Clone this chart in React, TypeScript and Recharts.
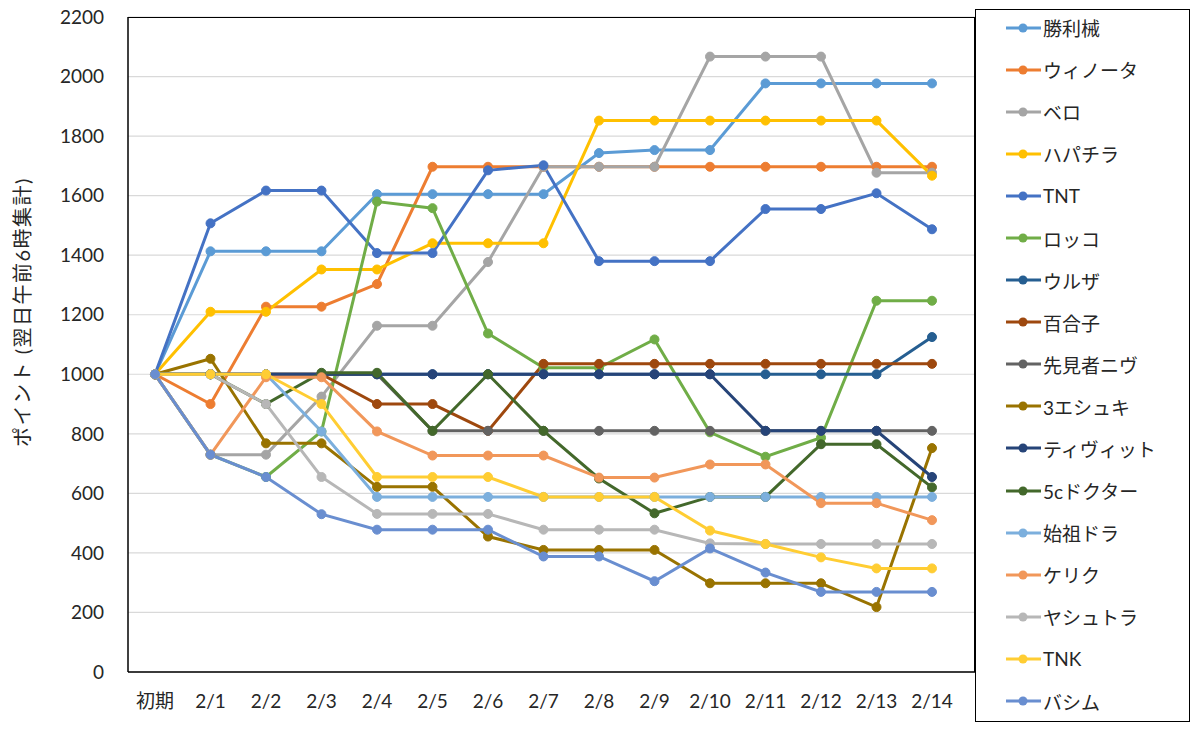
import React from 'react';
import { LineChart, Line, XAxis, YAxis, CartesianGrid, Legend } from 'recharts';

const categories = ['初期', '2/1', '2/2', '2/3', '2/4', '2/5', '2/6', '2/7', '2/8', '2/9', '2/10', '2/11', '2/12', '2/13', '2/14'];

const shoririkai = [1000, 1413, 1413, 1413, 1605, 1605, 1605, 1605, 1743, 1753, 1753, 1977, 1977, 1977, 1977];
const winota = [1000, 900, 1227, 1227, 1303, 1697, 1697, 1697, 1697, 1697, 1697, 1697, 1697, 1697, 1697];
const bero = [1000, 730, 730, 925, 1163, 1163, 1377, 1697, 1697, 1697, 2067, 2067, 2067, 1677, 1677];
const hapachira = [1000, 1210, 1210, 1352, 1352, 1440, 1440, 1440, 1852, 1852, 1852, 1852, 1852, 1852, 1667];
const tnt = [1000, 1507, 1617, 1617, 1407, 1407, 1685, 1702, 1380, 1380, 1380, 1555, 1555, 1608, 1487];
const rokko = [1000, 730, 655, 808, 1580, 1558, 1137, 1022, 1022, 1117, 805, 723, 787, 1247, 1247];
const uruza = [1000, 1000, 1000, 1000, 1000, 1000, 1000, 1000, 1000, 1000, 1000, 1000, 1000, 1000, 1125];
const yuriko = [1000, 1000, 1000, 1000, 900, 900, 810, 1035, 1035, 1035, 1035, 1035, 1035, 1035, 1035];
const sakimiNiv = [1000, 1000, 1000, 1000, 1000, 810, 810, 810, 810, 810, 810, 810, 810, 810, 810];
const eshuki3 = [1000, 1052, 768, 768, 622, 622, 455, 410, 410, 410, 298, 298, 298, 218, 752];
const tivit = [1000, 1000, 1000, 1000, 1000, 1000, 1000, 1000, 1000, 1000, 1000, 810, 810, 810, 655];
const doctor5c = [1000, 1000, 900, 1005, 1005, 810, 1000, 810, 650, 533, 588, 588, 765, 765, 620];
const shisoDora = [1000, 1000, 1000, 808, 588, 588, 588, 588, 588, 588, 588, 588, 588, 588, 588];
const keriku = [1000, 730, 990, 990, 808, 727, 727, 727, 653, 653, 697, 697, 567, 567, 510];
const yashutora = [1000, 1000, 900, 655, 531, 531, 531, 478, 478, 478, 432, 430, 430, 430, 430];
const tnk = [1000, 1000, 1000, 900, 655, 655, 655, 588, 588, 588, 475, 430, 385, 348, 348];
const bashimu = [1000, 730, 655, 530, 478, 478, 478, 388, 388, 305, 415, 334, 269, 269, 269];

const yTicks = [0, 200, 400, 600, 800, 1000, 1200, 1400, 1600, 1800, 2000, 2200];

// excel office palette, in series order
const series = [
  { name: '勝利械', values: shoririkai, color: '#5B9BD5' },
  { name: 'ウィノータ', values: winota, color: '#ED7D31' },
  { name: 'ベロ', values: bero, color: '#A5A5A5' },
  { name: 'ハパチラ', values: hapachira, color: '#FFC000' },
  { name: 'TNT', values: tnt, color: '#4472C4' },
  { name: 'ロッコ', values: rokko, color: '#70AD47' },
  { name: 'ウルザ', values: uruza, color: '#255E91' },
  { name: '百合子', values: yuriko, color: '#9E480E' },
  { name: '先見者ニヴ', values: sakimiNiv, color: '#636363' },
  { name: '3エシュキ', values: eshuki3, color: '#997300' },
  { name: 'ティヴィット', values: tivit, color: '#264478' },
  { name: '5cドクター', values: doctor5c, color: '#43682B' },
  { name: '始祖ドラ', values: shisoDora, color: '#7CAFDD' },
  { name: 'ケリク', values: keriku, color: '#F1975A' },
  { name: 'ヤシュトラ', values: yashutora, color: '#B7B7B7' },
  { name: 'TNK', values: tnk, color: '#FFCD33' },
  { name: 'バシム', values: bashimu, color: '#698ED0' },
];

const data = categories.map((cat, i) => {
  const row: any = { cat };
  series.forEach((s) => {
    row[s.name] = s.values[i];
  });
  return row;
});

const FONT = "Lato, 'Noto Sans CJK JP', sans-serif";

// legend keeps the series order (recharts would sort it by name)
const renderLegend = () => (
  <div
    style={{
      boxSizing: 'border-box',
      width: 215,
      height: 713,
      border: '1.5px solid #000',
      background: '#fff',
      fontFamily: FONT,
    }}
  >
    <div style={{ marginTop: -3.5 }}>
      {series.map((s) => (
        <div key={s.name} style={{ height: 42.1, display: 'flex', alignItems: 'center' }}>
          <svg width={68} height={12} style={{ flex: 'none' }}>
            <line x1={30} y1={6} x2={65} y2={6} stroke={s.color} strokeWidth={3} />
            <circle cx={47} cy={6} r={4.5} fill={s.color} />
          </svg>
          <span style={{ fontSize: 19, color: '#262626', marginLeft: -1 }}>{s.name}</span>
        </div>
      ))}
    </div>
  </div>
);

const yLabel = () => (
  <text
    x={22}
    y={312}
    transform="rotate(-90 22 312)"
    textAnchor="middle"
    dominantBaseline="central"
    fontSize={20}
    letterSpacing={1.5}
    fill="#262626"
    fontFamily={FONT}
  >
    ポイント (翌日午前6時集計)
  </text>
);

export default function App() {
  return (
    <div style={{ position: 'absolute', left: 0, top: 0, width: 1200, height: 749, background: '#fff' }}>
      <LineChart
        width={1200}
        height={749}
        data={data}
        margin={{ top: 17, right: 10, bottom: 37, left: 58 }}
        style={{ fontFamily: FONT }}
      >
        <CartesianGrid vertical={false} stroke="#d9d9d9" strokeWidth={1.2} />
        <XAxis
          dataKey="cat"
          height={40}
          padding={{ left: 27, right: 43 }}
          tickLine={false}
          tickSize={0}
          tickMargin={23}
          axisLine={{ stroke: '#000', strokeWidth: 1.5 }}
          tick={{ fontSize: 19, fill: '#262626' }}
          interval={0}
        />
        <YAxis
          width={70}
          domain={[0, 2200]}
          ticks={yTicks}
          interval={0}
          tickLine={false}
          tickSize={0}
          tickMargin={24}
          axisLine={{ stroke: '#000', strokeWidth: 1.5 }}
          tick={{ fontSize: 19, fill: '#262626' }}
          label={yLabel}
        />
        <Legend
          layout="vertical"
          align="right"
          verticalAlign="top"
          content={renderLegend}
          wrapperStyle={{ left: 975, top: 9, right: 'auto', bottom: 'auto', width: 215, height: 713 }}
        />
        {series.map((s) => (
          <Line
            key={s.name}
            type="linear"
            dataKey={s.name}
            stroke={s.color}
            strokeWidth={3}
            dot={{ r: 4.5, fill: s.color, stroke: s.color, strokeWidth: 1 }}
            activeDot={false}
            isAnimationActive={false}
          />
        ))}
      </LineChart>
      {/* plot area frame (top and right edges) */}
      <div
        style={{
          position: 'absolute',
          left: 128,
          top: 17,
          width: 847,
          height: 655,
          boxSizing: 'border-box',
          borderTop: '1.5px solid #000',
          borderRight: '1.5px solid #000',
          pointerEvents: 'none',
        }}
      />
    </div>
  );
}
